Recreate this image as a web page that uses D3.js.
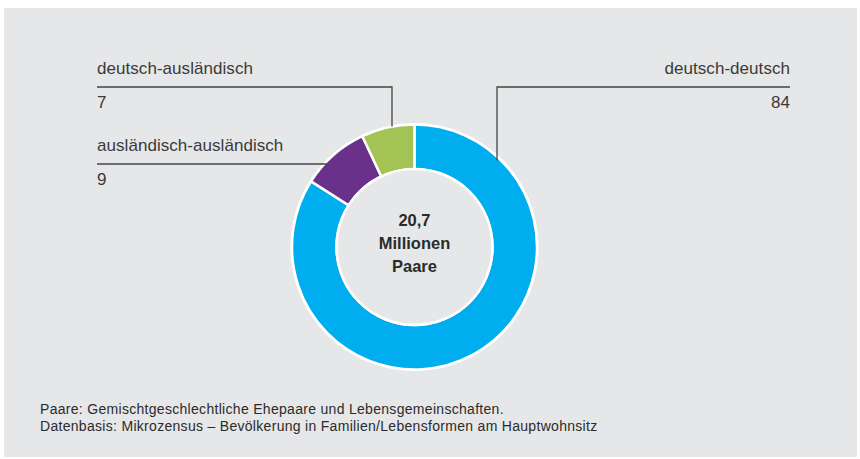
<!DOCTYPE html>
<html>
<head>
<meta charset="utf-8">
<script src="https://cdnjs.cloudflare.com/ajax/libs/d3/7.8.5/d3.min.js"></script>
<style>
body{margin:0;background:#fff;}
text{font-family:'Liberation Sans',Arial,sans-serif;fill:#333;}
</style>
</head>
<body>
<div id="root"></div>
<script>
// data
var categories=['deutsch-deutsch','ausländisch-ausländisch','deutsch-ausländisch'];
var values=[84,9,7];
var colors=['#00aeef','#6a318b','#a3c355'];
var centerLines=['20,7','Millionen','Paare'];
var notes=['Paare: Gemischtgeschlechtliche Ehepaare und Lebensgemeinschaften.',
           'Datenbasis: Mikrozensus – Bevölkerung in Familien/Lebensformen am Hauptwohnsitz'];

var W=860,H=459;
var cx=414.5,cy=247,rOut=122.5,rIn=78;

var svg=d3.select('#root').append('svg').attr('width',W).attr('height',H);

svg.append('rect').attr('x',4).attr('y',8).attr('width',853).attr('height',449).attr('fill','#e6e7e8');

var pie=d3.pie().sort(null).value(function(d){return d});
var arcs=pie(values);
var arc=d3.arc().innerRadius(rIn).outerRadius(rOut);

var g=svg.append('g').attr('transform','translate('+cx+','+cy+')');

// white ring behind
g.append('circle').attr('r',rOut+1.5).attr('fill','#fff');
g.selectAll('path.slice').data(arcs).enter().append('path').attr('class','slice')
  .attr('d',arc).attr('fill',function(d,i){return colors[i]})
  .attr('stroke','#fff').attr('stroke-width',2.5);
g.append('circle').attr('r',rIn).attr('fill','#e6e7e8').attr('stroke','#fff').attr('stroke-width',2.5);

g.selectAll('text.center').data(centerLines).enter().append('text').attr('class','center')
  .attr('text-anchor','middle').attr('y',function(d,i){return -21+i*23})
  .style('font-size','16.5px').style('font-weight','600').style('fill','#2b2b2b').text(function(d){return d});

var lineCol='#444';
// callouts
var callouts=[
  {i:0, y:87, side:'right', x0:497, x1:790},
  {i:2, y:87, side:'left',  x0:97,  x1:392},
  {i:1, y:164, side:'left', x0:97,  x1:null}
];

callouts.forEach(function(c){
  var pts;
  if(c.i==1){
    var yy=c.y-cy;
    var xx=-Math.sqrt(rOut*rOut-yy*yy);
    pts=[[c.x0,c.y],[cx+xx+4,c.y]];
  }else{
    var vx=c.side=='right'?c.x0:c.x1;
    var dx=vx-cx;
    var ey=cy-Math.sqrt(rOut*rOut-dx*dx);
    if(c.side=='right') pts=[[c.x1,c.y],[vx,c.y],[vx,ey+4]];
    else pts=[[c.x0,c.y],[vx,c.y],[vx,ey]];
  }
  svg.append('path').attr('d',d3.line()(pts)).attr('fill','none').attr('stroke',lineCol).attr('stroke-width',1.3);
  var tx=c.side=='right'?c.x1:c.x0;
  var anchor=c.side=='right'?'end':'start';
  svg.append('text').attr('x',tx).attr('y',c.y-13).attr('text-anchor',anchor)
    .style('font-size','17px').style('letter-spacing','0.05px').style('fill','#3a3a3a').text(categories[c.i]);
  svg.append('text').attr('x',tx).attr('y',c.y+21).attr('text-anchor',anchor)
    .style('font-size','17px').style('fill','#3a3a3a').text(values[c.i]);
});

svg.selectAll('text.note').data(notes).enter().append('text').attr('class','note')
  .attr('x',40).attr('y',function(d,i){return 414+i*17})
  .style('font-size','14px').style('letter-spacing','0.3px').style('fill','#2b2b2b').text(function(d){return d});
</script>
</body>
</html>
